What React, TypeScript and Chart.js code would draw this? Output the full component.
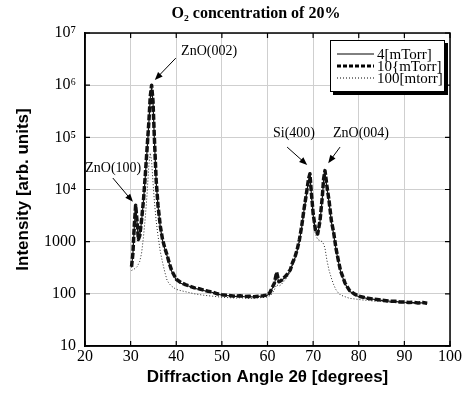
import React, { useEffect, useRef } from "react";
import { Chart, registerables } from "chart.js";

Chart.register(...registerables);

// Diffraction angle 2θ (degrees)
const angles = [
  30.2, 30.5, 30.8, 31.1, 31.4, 31.7, 32.0, 32.4, 32.8, 33.2, 33.6, 34.0, 34.3, 34.6, 34.9, 35.2, 35.6, 36.0, 36.5, 37.0, 37.5, 38.0, 38.5, 39.0, 39.5, 40.0,
  41, 42, 43, 44, 45, 46, 47, 48, 49, 50, 51, 52, 53, 54, 55, 56, 57, 58, 59, 60,
  60.5, 61, 61.5, 62, 62.5, 63, 63.5, 64, 64.5, 65, 65.5, 66, 66.5, 67, 67.5, 68, 68.5, 69.0, 69.3, 69.6, 70.0, 70.5, 71.0, 71.5, 72.0, 72.3, 72.6, 73.0, 73.5, 74.0, 74.5, 75.0, 75.5, 76.0, 77, 78, 79, 80,
  81, 82, 83, 84, 85, 86, 87, 88, 89, 90, 91, 92, 93, 94, 95,
];

// 4 mTorr (solid)
const intensity4 = [
  320, 580, 1900, 4600, 2400, 1050, 1250, 2500, 5800, 17000, 55000, 190000, 560000, 900000, 480000, 95000, 14000, 4800, 1900, 1050, 720, 530, 370, 270, 225, 185,
  160, 148, 138, 128, 122, 116, 110, 106, 99, 95, 93, 91, 89, 90, 88, 89, 87, 89, 91, 94,
  104, 125, 150, 240, 165, 175, 195, 215, 245, 280, 380, 480, 680, 1050, 1900, 4000, 7600, 15000, 19000, 8600, 3300, 1650, 1350, 2400, 6600, 15000, 21000, 11000, 5600, 2400, 1400, 720, 430, 270, 155, 112, 98, 88,
  85, 81, 79, 77, 75, 73, 72, 71, 70, 69, 68, 68, 67, 67, 66,
];

// 10 mTorr (dashed)
const intensity10 = [
  330, 600, 2000, 5000, 2500, 1100, 1300, 2600, 6000, 18000, 60000, 200000, 600000, 1000000, 500000, 100000, 15000, 5000, 2000, 1100, 750, 550, 380, 280, 230, 190,
  165, 150, 140, 130, 125, 118, 112, 108, 100, 96, 94, 92, 90, 92, 89, 90, 88, 90, 92, 95,
  105, 130, 160, 260, 170, 180, 200, 220, 250, 290, 400, 500, 700, 1100, 2000, 4200, 8000, 16000, 20000, 9000, 3500, 1700, 1400, 2500, 7000, 16000, 23000, 12000, 6000, 2500, 1500, 750, 450, 280, 160, 115, 100, 90,
  86, 82, 80, 78, 76, 74, 72, 72, 70, 70, 68, 69, 67, 68, 66,
];

// 100 mTorr (dotted)
const intensity100 = [
  280, 290, 300, 310, 330, 370, 420, 600, 1200, 2800, 8000, 30000, 50000, 35000, 14000, 6000, 2500, 1300, 650, 400, 260, 180, 155, 140, 130, 122,
  115, 110, 105, 100, 97, 94, 92, 90, 88, 86, 85, 84, 83, 84, 83, 82, 83, 84, 85, 87,
  92, 100, 120, 150, 140, 150, 170, 190, 220, 260, 350, 450, 650, 1000, 1800, 3800, 7500, 15000, 19000, 7500, 2800, 1400, 1100, 1050, 1000, 900, 750, 450, 280, 200, 150, 120, 105, 95, 88, 82, 80, 78,
  76, 75, 73, 72, 71, 70, 69, 68, 68, 67, 66, 66, 65, 65, 64,
];

const seriesLabels = ["4[mTorr]", "10{mTorr]", "100[mtorr]"];
const xTicks = [20, 30, 40, 50, 60, 70, 80, 90, 100];
const yTicks = [10, 100, 1000, 10000, 100000, 1000000, 10000000];
const yTickLabels = ["10", "100", "1000", "10⁴", "10⁵", "10⁶", "10⁷"];
const titleText = "O₂ concentration of 20%";
const xTitle = "Diffraction Angle 2θ [degrees]";
const yTitle = "Intensity [arb. units]";

// Peak annotations: label centre and arrow (from -> to) in data coordinates
const peakNames = ["ZnO(100)", "ZnO(002)", "Si(400)", "ZnO(004)"];
const peakLabelAt = [
  [26.2, 25700], [47.2, 4.4e6], [65.8, 1.2e5], [80.5, 1.2e5],
];
const peakArrowFrom = [
  [26.1, 16600], [39.9, 3.3e6], [64.3, 6.5e4], [75.9, 6.5e4],
];
const peakArrowTo = [
  [30.5, 5800], [35.3, 1.26e6], [68.7, 2.95e4], [73.3, 3.2e4],
];

const SERIF = "'Liberation Serif', 'Times New Roman', serif";
const SANS = "'Liberation Sans', Arial, sans-serif";

const decorPlugin = {
  id: "decor",
  afterDraw(chart: any) {
    const { ctx, chartArea } = chart;
    const xs = chart.scales.x;
    const ys = chart.scales.y;
    const { left, right, top, bottom } = chartArea;
    ctx.save();

    // frame
    ctx.strokeStyle = "#000";
    ctx.lineWidth = 1.5;
    ctx.strokeRect(left, top, right - left, bottom - top);

    // inner ticks
    ctx.lineWidth = 1.2;
    ctx.beginPath();
    xTicks.forEach((v) => {
      const px = xs.getPixelForValue(v);
      ctx.moveTo(px, bottom);
      ctx.lineTo(px, bottom - 5);
      ctx.moveTo(px, top);
      ctx.lineTo(px, top + 5);
    });
    yTicks.forEach((v) => {
      const py = ys.getPixelForValue(v);
      ctx.moveTo(left, py);
      ctx.lineTo(left + 5, py);
      ctx.moveTo(right, py);
      ctx.lineTo(right - 5, py);
    });
    ctx.stroke();

    // title
    ctx.fillStyle = "#000";
    ctx.font = `bold 16px ${SERIF}`;
    ctx.textAlign = "center";
    ctx.textBaseline = "middle";
    ctx.fillText(titleText, 256, 14);

    // annotations
    ctx.font = `14px ${SERIF}`;
    peakNames.forEach((name, i) => {
      const tx = xs.getPixelForValue(peakLabelAt[i][0]);
      const ty = ys.getPixelForValue(peakLabelAt[i][1]);
      ctx.fillText(name, tx, ty);
      const x1 = xs.getPixelForValue(peakArrowFrom[i][0]);
      const y1 = ys.getPixelForValue(peakArrowFrom[i][1]);
      const x2 = xs.getPixelForValue(peakArrowTo[i][0]);
      const y2 = ys.getPixelForValue(peakArrowTo[i][1]);
      const ang = Math.atan2(y2 - y1, x2 - x1);
      ctx.lineWidth = 1;
      ctx.beginPath();
      ctx.moveTo(x1, y1);
      ctx.lineTo(x2 - 5 * Math.cos(ang), y2 - 5 * Math.sin(ang));
      ctx.stroke();
      const hl = 8, hw = 3.2;
      ctx.beginPath();
      ctx.moveTo(x2, y2);
      ctx.lineTo(x2 - hl * Math.cos(ang) + hw * Math.sin(ang), y2 - hl * Math.sin(ang) - hw * Math.cos(ang));
      ctx.lineTo(x2 - hl * Math.cos(ang) - hw * Math.sin(ang), y2 - hl * Math.sin(ang) + hw * Math.cos(ang));
      ctx.closePath();
      ctx.fill();
    });

    // legend box
    const bx = right - 120, by = top + 7, bw = 115, bh = 52;
    ctx.fillStyle = "#000";
    ctx.fillRect(bx + 3, by + 3, bw, bh);
    ctx.fillStyle = "#fff";
    ctx.fillRect(bx, by, bw, bh);
    ctx.strokeStyle = "#000";
    ctx.lineWidth = 1;
    ctx.strokeRect(bx + 0.5, by + 0.5, bw - 1, bh - 1);
    const styles = [
      { w: 1, dash: [] as number[] },
      { w: 3, dash: [4, 2] },
      { w: 1, dash: [1, 2] },
    ];
    ctx.font = `15px ${SERIF}`;
    ctx.textAlign = "left";
    seriesLabels.forEach((lab, i) => {
      const ly = by + 14 + i * 12;
      ctx.beginPath();
      ctx.setLineDash(styles[i].dash);
      ctx.lineWidth = styles[i].w;
      ctx.moveTo(bx + 7, ly);
      ctx.lineTo(bx + 44, ly);
      ctx.stroke();
      ctx.setLineDash([]);
      ctx.fillStyle = "#000";
      ctx.fillText(lab, bx + 47, ly + 1);
    });

    ctx.restore();
  },
};

export default function App() {
  const ref = useRef<HTMLCanvasElement | null>(null);

  useEffect(() => {
    if (!ref.current) return;
    const mk = (vals: number[]) => angles.map((a, i) => ({ x: a, y: vals[i] }));
    const chart = new Chart(ref.current, {
      type: "line",
      data: {
        datasets: [
          {
            label: seriesLabels[1],
            data: mk(intensity10),
            borderColor: "#111",
            borderWidth: 3.5,
            borderDash: [6, 2],
            borderJoinStyle: "round",
            pointRadius: 0,
            fill: false,
            order: 0,
          },
          {
            label: seriesLabels[0],
            data: mk(intensity4),
            borderColor: "#111",
            borderWidth: 1.2,
            borderJoinStyle: "round",
            pointRadius: 0,
            fill: false,
            order: 1,
          },
          {
            label: seriesLabels[2],
            data: mk(intensity100),
            borderColor: "#222",
            borderWidth: 1,
            borderDash: [1, 2],
            borderJoinStyle: "round",
            pointRadius: 0,
            fill: false,
            order: 2,
          },
        ],
      },
      options: {
        responsive: false,
        animation: false,
        layout: { padding: { top: 33, right: 16, left: 0, bottom: 0 } },
        plugins: {
          legend: { display: false },
          title: { display: false },
          tooltip: { enabled: false },
        },
        scales: {
          x: {
            type: "linear",
            min: 20,
            max: 100,
            afterBuildTicks: (s: any) => {
              s.ticks = xTicks.map((v) => ({ value: v }));
            },
            afterFit: (s: any) => {
              s.height = 53;
            },
            ticks: {
              autoSkip: false,
              maxRotation: 0,
              padding: 1,
              color: "#000",
              font: { family: SERIF, size: 16 },
              callback: (v: any) => String(v),
            },
            grid: { color: "#cfcfcf", lineWidth: 1, drawTicks: false },
            border: { display: true, color: "#000", width: 1.5 },
            title: {
              display: true,
              text: xTitle,
              color: "#000",
              font: { family: SANS, size: 17, weight: "bold" },
              padding: { top: 0, bottom: 11 },
            },
          },
          y: {
            type: "logarithmic",
            min: 10,
            max: 10000000,
            afterBuildTicks: (s: any) => {
              s.ticks = yTicks.map((v) => ({ value: v }));
            },
            afterFit: (s: any) => {
              s.width = 85;
            },
            ticks: {
              autoSkip: false,
              padding: 9,
              color: "#000",
              font: { family: SERIF, size: 16 },
              callback: (v: any) => yTickLabels[Math.round(Math.log10(Number(v))) - 1],
            },
            grid: { color: "#cfcfcf", lineWidth: 1, drawTicks: false },
            border: { display: true, color: "#000", width: 1.5 },
            title: {
              display: true,
              text: yTitle,
              color: "#000",
              font: { family: SANS, size: 17, weight: "bold" },
              padding: { top: 13, bottom: 0 },
            },
          },
        },
      },
      plugins: [decorPlugin],
    } as any);
    return () => chart.destroy();
  }, []);

  return (
    <div style={{ position: "fixed", left: 0, top: 0, width: 466, height: 399, background: "#fff" }}>
      <canvas ref={ref} width={466} height={399} style={{ display: "block" }} />
    </div>
  );
}
